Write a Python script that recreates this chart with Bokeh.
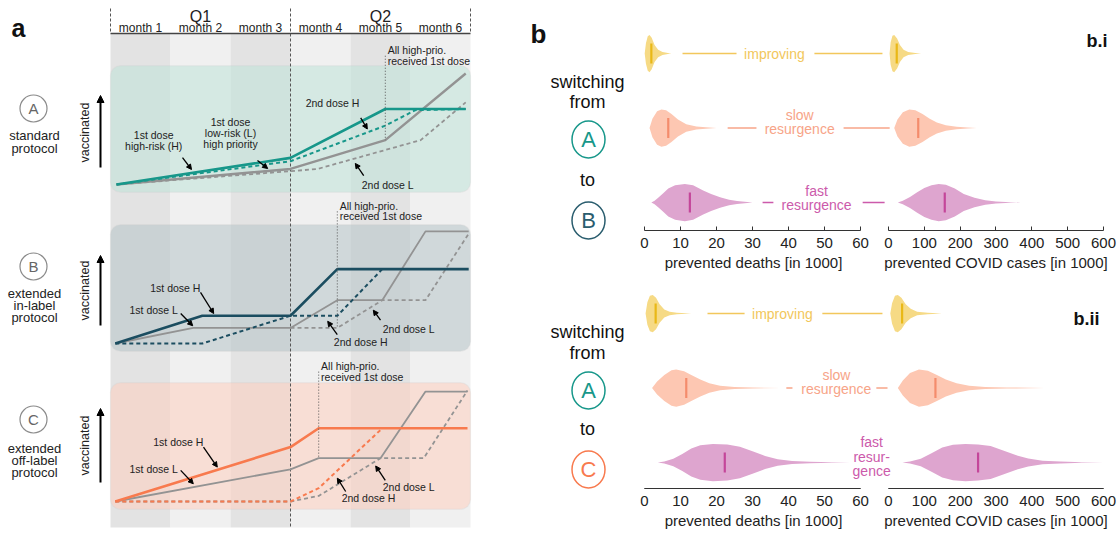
import math
from bokeh.plotting import figure
from bokeh.models import Range1d, Arrow, NormalHead, BoxAnnotation, FixedTicker
from bokeh.layouts import row, column
from bokeh.embed import file_html
from bokeh.resources import INLINE
from bokeh.core.properties import value

FONT = "Liberation Sans"
TXT = "#222222"

# ===================== DATA: panel a =====================
month_labels = ["month 1", "month 2", "month 3", "month 4", "month 5", "month 6"]
quarter_labels = ["Q1", "Q2"]
protocol_letters = ["A", "B", "C"]
protocol_names = [["standard", "protocol"],
                  ["extended", "in-label", "protocol"],
                  ["extended", "off-label", "protocol"]]

# x: months since start, y: vaccinated (arbitrary units, ~100 = all)
A_d1H_x = [0.1, 3.0, 4.58, 5.92];            A_d1H_y = [0, 24, 68, 68]
A_d2H_x = [0.1, 3.0, 4.58, 5.08, 5.92];      A_d2H_y = [0, 21, 53, 67, 68]
A_d1L_x = [0.1, 3.0, 4.58, 5.92];            A_d1L_y = [0, 14, 40, 100]
A_d2L_x = [0.1, 3.0, 3.45, 5.17, 5.92];      A_d2L_y = [0, 12, 14, 40, 74]
A_prio = 4.58

B_d1H_x = [0.08, 1.53, 3.0, 3.78, 5.97];     B_d1H_y = [0, 25, 25, 67, 67]
B_d2H_x = [0.08, 1.53, 3.0, 3.78, 4.53];     B_d2H_y = [0, 0, 25, 25, 67]
B_d1L_x = [0.08, 1.38, 3.0, 3.78, 4.53, 5.25, 5.97]; B_d1L_y = [0, 14, 14, 39, 39, 101, 101]
B_d2L_x = [3.0, 3.78, 4.53, 5.25, 5.97];     B_d2L_y = [14, 14, 39, 39, 99]
B_prio = 3.78

C_d1H_x = [0.08, 3.0, 3.47, 5.95];           C_d1H_y = [0, 49, 66, 66]
C_d2H_x = [0.08, 3.0, 3.47, 4.53];           C_d2H_y = [0, 0, 12, 66]
C_d1L_x = [0.08, 3.0, 3.47, 4.5, 5.25, 5.95]; C_d1L_y = [0, 29, 39, 39, 99, 99]
C_d2L_x = [0.08, 3.0, 3.47, 4.5, 5.22, 5.95]; C_d2L_y = [0, 0, 5, 39, 39, 100]
C_prio = 3.47

# ===================== DATA: panel b =====================
scenario_lines = [["improving"], ["slow", "resurgence"], ["fast", "resurgence"]]
scenario_lines_ii = [["improving"], ["slow", "resurgence"], ["fast", "resur-", "gence"]]
death_ticks = [0, 10, 20, 30, 40, 50, 60]
case_ticks = [0, 100, 200, 300, 400, 500, 600]

# b.i  (A -> B): violins (value, relative density), medians
bi_deaths = [
    ([0.05, 0.4, 0.9, 1.4, 2.0, 2.8, 3.8, 5.0, 6.9, 7.5], [0, 0.55, 0.92, 1.0, 0.85, 0.45, 0.2, 0.08, 0.02, 0]),
    ([1.4, 2.2, 3.5, 4.7, 6.0, 7.5, 9.3, 11.6, 14.4, 17, 20], [0, 0.5, 0.9, 1.0, 0.95, 0.75, 0.45, 0.2, 0.08, 0.04, 0]),
    ([1.9, 2.8, 3.8, 5.2, 6.6, 8.5, 11.2, 13.5, 16.3, 18.5, 21, 23.5, 25.7, 30],
     [0, 0.1, 0.25, 0.5, 0.75, 0.93, 1.0, 0.93, 0.65, 0.45, 0.28, 0.15, 0.08, 0]),
]
bi_cases = [
    ([3, 6, 11, 16, 24, 32, 42, 55, 75, 91], [0, 0.6, 0.95, 1.0, 0.8, 0.45, 0.2, 0.08, 0.03, 0]),
    ([16, 25, 40, 58, 75, 95, 115, 135, 160, 190, 220, 246], [0, 0.45, 0.85, 1.0, 0.95, 0.75, 0.5, 0.3, 0.15, 0.07, 0.03, 0]),
    ([26, 40, 60, 80, 100, 120, 140, 160, 185, 210, 240, 270, 300, 340, 369],
     [0, 0.1, 0.3, 0.55, 0.78, 0.93, 1.0, 0.95, 0.75, 0.45, 0.25, 0.12, 0.06, 0.02, 0]),
]
bi_deaths_med = [1.9, 6.6, 12.6]
bi_cases_med = [23, 83, 157]

# b.ii (A -> C)
bii_deaths = [
    ([0.3, 0.8, 1.5, 2.3, 3.2, 4.2, 5.5, 7.0, 9.0, 13], [0, 0.6, 0.95, 1.0, 0.85, 0.5, 0.22, 0.1, 0.04, 0]),
    ([2.1, 3.5, 5.5, 7.5, 8.8, 11, 13, 15.5, 18, 21, 25, 30, 37.7],
     [0, 0.35, 0.7, 0.95, 1.0, 0.9, 0.7, 0.45, 0.25, 0.12, 0.06, 0.03, 0]),
    ([3.7, 5.5, 8, 10.5, 13, 15.5, 19, 23, 26.5, 30, 33.5, 37, 41, 46, 52, 57],
     [0, 0.05, 0.2, 0.45, 0.75, 0.93, 1.0, 0.97, 0.85, 0.6, 0.35, 0.18, 0.08, 0.04, 0.02, 0]),
]
bii_cases = [
    ([5, 10, 18, 26, 36, 48, 62, 80, 110, 149], [0, 0.55, 0.95, 1.0, 0.85, 0.5, 0.25, 0.1, 0.04, 0]),
    ([26, 40, 60, 85, 110, 135, 160, 190, 225, 270, 330, 435],
     [0, 0.4, 0.8, 1.0, 0.92, 0.7, 0.45, 0.25, 0.12, 0.06, 0.03, 0]),
    ([39, 60, 90, 120, 150, 180, 215, 250, 285, 320, 355, 390, 430, 480, 540, 600],
     [0, 0.06, 0.2, 0.5, 0.8, 0.95, 1.0, 0.97, 0.88, 0.65, 0.4, 0.22, 0.1, 0.05, 0.02, 0]),
]
bii_deaths_med = [3.1, 11.6, 22.3]
bii_cases_med = [38, 131, 250]

# ===================== STYLE =====================
TEAL, NAVY, ORANGE, GRAY = "#17978a", "#1b4d60", "#f87a4e", "#939393"
FILL = ["#f6da85", "#fdc7b2", "#dea5cf"]
MED = ["#e9b816", "#f48c6c", "#c4469a"]
LAB = ["#f2c75c", "#f7a488", "#cc5aab"]
TOTAL_H = 531


def tx(p, x, y, t, size, color=TXT, align="center", baseline="middle", style="normal", angle=0, **kw):
    p.text(x=[x], y=[y], text=[t], text_font=value(FONT), text_font_size=size, text_color=color,
           text_align=align, text_baseline=baseline, text_font_style=style, angle=angle, **kw)


def blank(width, height, xr, yr, **kw):
    f = figure(width=width, height=height, x_range=xr, y_range=yr,
               x_axis_location=None, y_axis_location=None, toolbar_location=None,
               output_backend="svg", min_border=0, outline_line_color=None, **kw)
    f.grid.visible = False
    return f


# ===================== PANEL a =====================
K = 1.11
base = {"A": 184, "B": 343, "C": 501}
pa = blank(520, TOTAL_H, Range1d(-110 / 60, 410 / 60), Range1d(TOTAL_H, 0))
pa.extra_y_ranges = {k: Range1d((b - TOTAL_H) / K, b / K) for k, b in base.items()}

stripe_cols = ["#e3e3e3" if i % 2 == 0 else "#f0f0f0" for i in range(len(month_labels))]
pa.quad(left=list(range(6)), right=list(range(1, 7)), top=33, bottom=527,
        fill_color=stripe_cols, line_color=None, level="image")

box_fill = {"A": "#bfe3d8", "B": "#b6c4c8", "C": "#ffcfbf"}
for k in ["A", "B", "C"]:
    pa.add_layout(BoxAnnotation(left=0, right=6, bottom=-7, top=107, y_range_name=k,
                                fill_color=box_fill[k], fill_alpha=0.55, line_color="#cfcfcf",
                                line_width=1.2, border_radius=10, level="underlay"))

# header
pa.segment(x0=[0, 6], y0=[8, 8], x1=[0, 6], y1=[33, 33], line_color="#555555", line_dash="3 2", line_width=1)
pa.segment(x0=[3], y0=[8], x1=[3], y1=[527], line_color="#555555", line_dash="3 2", line_width=1)
pa.line([0, 6], [33, 33], line_color="#444444", line_width=1.5)
for i, q in enumerate(quarter_labels):
    tx(pa, 1.5 + 3 * i, 16, q, "16px")
for i, m in enumerate(month_labels):
    tx(pa, i + 0.5, 27, m, "12px")
tx(pa, (18 - 110) / 60, 27, "a", "25px", color="#111111", style="bold")

# left labels
circ_y = [108, 266, 419]
name_y = [[135, 148], [293, 305, 317], [448, 460, 472]]
cx = (33 - 110) / 60
pa.scatter(x=[cx] * 3, y=circ_y, size=27, marker="circle", fill_color="white",
           line_color="#8a8a8a", line_width=1.2)
for letter, cy, names, nys in zip(protocol_letters, circ_y, protocol_names, name_y):
    tx(pa, cx, cy, letter, "15px", color="#666666")
    for nm, ny in zip(names, nys):
        tx(pa, (34 - 110) / 60, ny, nm, "13px")

vac_y = [132, 290, 445]
arr_y = [(167, 95), (325, 255), (482, 408)]
for vy, (a0, a1) in zip(vac_y, arr_y):
    tx(pa, (84 - 110) / 60, vy, "vaccinated", "12.5px", angle=math.pi / 2)
    pa.add_layout(Arrow(x_start=(100 - 110) / 60, y_start=a0, x_end=(100 - 110) / 60, y_end=a1,
                        line_width=2, line_color="black",
                        end=NormalHead(size=7, fill_color="black", line_color="black")))


def curves(k, col, d1H, d2H, d1L, d2L, wH=2.6, wL=2.2):
    pa.line(d2L[0], d2L[1], y_range_name=k, line_color=GRAY, line_width=1.8, line_dash="4 3")
    pa.line(d1L[0], d1L[1], y_range_name=k, line_color=GRAY, line_width=wL)
    pa.line(d2H[0], d2H[1], y_range_name=k, line_color=col, line_width=2.0, line_dash="4 3")
    pa.line(d1H[0], d1H[1], y_range_name=k, line_color=col, line_width=wH)


curves("A", TEAL, (A_d1H_x, A_d1H_y), (A_d2H_x, A_d2H_y), (A_d1L_x, A_d1L_y), (A_d2L_x, A_d2L_y), wL=2.4)
curves("B", NAVY, (B_d1H_x, B_d1H_y), (B_d2H_x, B_d2H_y), (B_d1L_x, B_d1L_y), (B_d2L_x, B_d2L_y), wL=1.8)
curves("C", ORANGE, (C_d1H_x, C_d1H_y), (C_d2H_x, C_d2H_y), (C_d1L_x, C_d1L_y), (C_d2L_x, C_d2L_y), wL=1.8)

for k, xp, top, bot, t1, t2 in [("A", A_prio, 116, 40, 121, 111),
                                ("B", B_prio, 119, 14, 124, 115),
                                ("C", C_prio, 117, 39, 122, 112)]:
    pa.segment(x0=[xp], y0=[top], x1=[xp], y1=[bot], y_range_name=k, line_color="#555555",
               line_dash="1 2", line_width=1)
    tx(pa, xp + 0.04, t1, "All high-prio.", "10.5px", align="left", y_range_name=k)
    tx(pa, xp + 0.04, t2, "received 1st dose", "10.5px", align="left", y_range_name=k)

curve_labels = [
    ("A", ["1st dose", "high-risk (H)"], 0.72, [45, 35], (1.2, 24.3, 1.35, 13.5)),
    ("A", ["1st dose", "low-risk (L)", "high priority"], 2.0, [56, 46, 36.5], (2.45, 21.6, 2.62, 14.4)),
    ("A", ["2nd dose H"], 3.7, [73], (4.17, 60, 4.28, 50)),
    ("A", ["2nd dose L"], 4.62, [0], (4.22, 8, 4.08, 19)),
    ("B", ["1st dose H"], 1.08, [50], (1.5, 46, 1.72, 27)),
    ("B", ["1st dose L"], 0.72, [30], (1.17, 27, 1.37, 16)),
    ("B", ["2nd dose H"], 4.17, [1], (3.78, 8, 3.62, 20)),
    ("B", ["2nd dose L"], 4.97, [13.5], (4.5, 21, 4.38, 30)),
    ("C", ["1st dose H"], 1.13, [54], (1.55, 49, 1.78, 31)),
    ("C", ["1st dose L"], 0.72, [29], (1.17, 28, 1.38, 16)),
    ("C", ["2nd dose H"], 4.3, [3], (3.92, 9, 3.78, 21)),
    ("C", ["2nd dose L"], 4.97, [13], (4.58, 19, 4.42, 32)),
]
for k, lines, lx, lys, (ax0, ay0, ax1, ay1) in curve_labels:
    for t, ly in zip(lines, lys):
        tx(pa, lx, ly, t, "10.5px", y_range_name=k)
    pa.add_layout(Arrow(x_start=ax0, y_start=ay0, x_end=ax1, y_end=ay1, y_range_name=k,
                        line_width=1.3, line_color="black",
                        end=NormalHead(size=5, fill_color="black", line_color="black")))

# ===================== PANEL b =====================
D_PX0, D_SC = 644, 3.6          # deaths: px = 644 + 3.6*v
C_PX0, C_SC = 888, 0.35833      # cases:  px = 888 + 0.3583*v
L, M, R = 632, 874, 1117
ROW_SP = 74.5
H = 0.25
HM = 0.135

# side labels column
lb = blank(L - 520, TOTAL_H, Range1d(520, L), Range1d(TOTAL_H, 0))
tx(lb, 538, 33, "b", "26px", color="#111111", style="bold")
for ys, letters, cols in [([81, 101, 139, 179, 220], ["A", "B"], [TEAL, "#2a5d6e"]),
                          ([331, 352, 390, 428, 469], ["A", "C"], [TEAL, ORANGE])]:
    tx(lb, 587, ys[0], "switching", "18px", color="#111111")
    tx(lb, 587, ys[1], "from", "18px", color="#111111")
    tx(lb, 587, ys[3], "to", "18px", color="#111111")
    for yy, letter, c in zip([ys[2], ys[4]], letters, cols):
        lb.ellipse(x=[588], y=[yy], width=33, height=37, width_units="screen", height_units="screen",
                   fill_color=None, line_color=c, line_width=1.5)
        tx(lb, 588, yy, letter, "22px", color=c)


def violin_fig(top_px, bot_px, row0_px):
    f = blank(R - L, bot_px - top_px,
              Range1d((L - D_PX0) / D_SC, (R - D_PX0) / D_SC),
              Range1d((bot_px - row0_px) / ROW_SP, (top_px - row0_px) / ROW_SP))
    f.extra_x_ranges = {"cases": Range1d((L - C_PX0) / C_SC, (R - C_PX0) / C_SC)}
    return f


def draw_violins(f, deaths, cases, dmed, cmed):
    for i in range(3):
        for (xs, ws), med, rn in [(deaths[i], dmed[i], "default"), (cases[i], cmed[i], "cases")]:
            f.varea(x=xs, y1=[i - w * H for w in ws], y2=[i + w * H for w in ws],
                    fill_color=FILL[i], x_range_name=rn)
            f.segment(x0=[med], y0=[i - HM], x1=[med], y1=[i + HM], line_color=MED[i],
                      line_width=2.2, x_range_name=rn)


def draw_connectors(f, conns, lines_list, offsets):
    for i in range(3):
        segs, tx_x = conns[i]
        for (a, b) in segs:
            f.segment(x0=[a], y0=[i], x1=[b], y1=[i], line_color=LAB[i], line_width=1.5)
        for t, off in zip(lines_list[i], offsets[i]):
            tx(f, tx_x, i + off, t, "14px", color=LAB[i])


VI1_BOT = 226
vi1 = violin_fig(0, VI1_BOT, 53)
draw_violins(vi1, bi_deaths, bi_cases, bi_deaths_med, bi_cases_med)
draw_connectors(vi1,
                [([(10.56, 25.56), (47.2, 66.1)], 36.1),
                 ([(23.1, 31.1), (55.3, 68.1)], 43.1),
                 ([(32.8, 35.8), (60.6, 66.7)], 47.8)],
                scenario_lines, [[0], [-0.175, 0.012], [-0.148, 0.04]])
tx(vi1, (1107 - D_PX0) / D_SC, (40 - 53) / ROW_SP, "b.i", "18px", color="#111111", style="bold", align="right")

AX1_H = 47
VI2_TOP = VI1_BOT + AX1_H
AX2_H = 43
VI2_BOT = TOTAL_H - AX2_H
vi2 = violin_fig(VI2_TOP, VI2_BOT, 313)
draw_violins(vi2, bii_deaths, bii_cases, bii_deaths_med, bii_cases_med)
draw_connectors(vi2,
                [([(17.5, 27.8), (49.4, 66.1)], 38.3),
                 ([(39.4, 41.1), (64.4, 67.5)], 53.3),
                 ([], 63.1)],
                scenario_lines_ii, [[0], [-0.175, 0.012], [-0.27, -0.08, 0.11]])
tx(vi2, (1099 - D_PX0) / D_SC, (318 - 313) / ROW_SP, "b.ii", "18px", color="#111111", style="bold", align="right")


def axis_fig(px0, px1, o, sc, ticks, label, h):
    f = figure(width=px1 - px0, height=h, x_range=Range1d((px0 - o) / sc, (px1 - o) / sc),
               y_range=Range1d(0, 1), y_axis_location=None, toolbar_location=None,
               output_backend="svg", min_border=0, outline_line_color=None)
    f.grid.visible = False
    ax = f.xaxis[0]
    ax.ticker = FixedTicker(ticks=ticks)
    ax.bounds = (ticks[0], ticks[-1])
    ax.major_tick_in = 4
    ax.major_tick_out = 0
    ax.minor_tick_line_color = None
    ax.axis_line_color = "#333333"
    ax.major_tick_line_color = "#333333"
    ax.major_label_text_font = FONT
    ax.major_label_text_font_size = "15px"
    ax.major_label_text_color = TXT
    ax.major_label_standoff = 7
    ax.axis_label = label
    ax.axis_label_text_font = FONT
    ax.axis_label_text_font_size = "15px"
    ax.axis_label_text_font_style = "normal"
    ax.axis_label_text_color = TXT
    ax.axis_label_standoff = 3
    return f


def axis_row(h):
    fd = axis_fig(L, M, D_PX0, D_SC, death_ticks, "prevented deaths [in 1000]", h)
    fc = axis_fig(M, R, C_PX0, C_SC, case_ticks, "prevented COVID cases [in 1000]", h)
    return row(fd, fc)


panel_b = column(vi1, axis_row(AX1_H), vi2, axis_row(AX2_H))
layout = row(pa, lb, panel_b)
open("out.html", "w").write(file_html(layout, INLINE))
